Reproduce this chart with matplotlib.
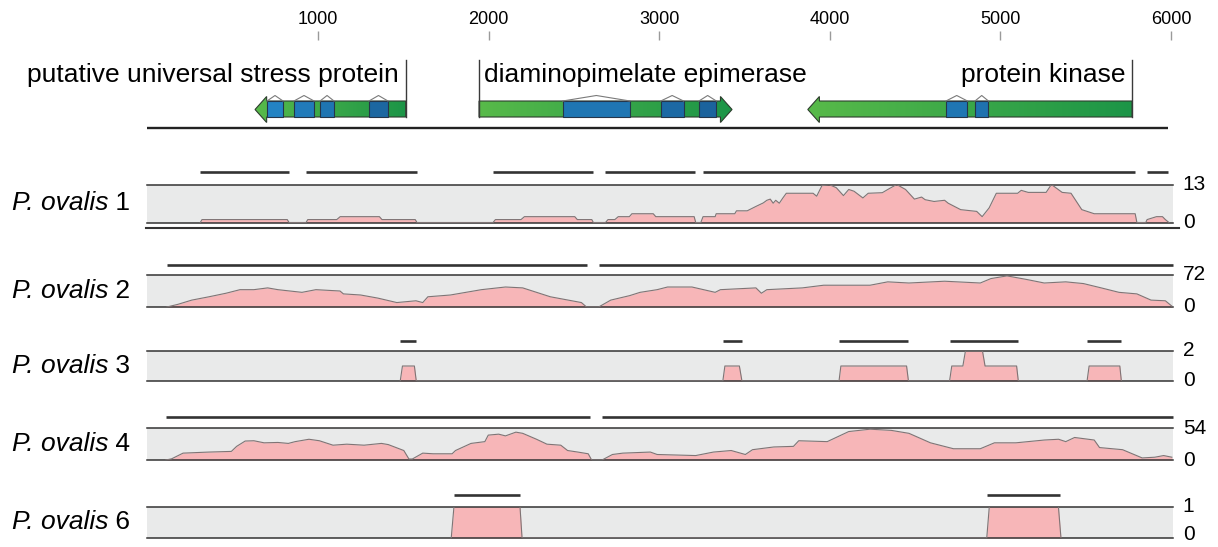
import numpy as np
import matplotlib
matplotlib.use('Agg')
import matplotlib.pyplot as plt
from matplotlib.patches import Polygon, Rectangle
from matplotlib.colors import LinearSegmentedColormap, to_rgb

plt.rcParams['font.family'] = ['Liberation Sans', 'DejaVu Sans']

# ---- data ----
tick_pos = [1000, 2000, 3000, 4000, 5000, 6000]
genome_len = 5980

gene_names = ['putative universal stress protein', 'diaminopimelate epimerase', 'protein kinase']
gene_start = [631, 1944, 3871]
gene_end = [1514, 3427, 5772]
gene_strand = [-1, 1, -1]
gene_domains = [
    [(701, 795), (859, 977), (1012, 1094), (1299, 1410)],
    [(2434, 2829), (3009, 3143), (3233, 3335)],
    [(4681, 4807), (4851, 4930)],
]

track_names = ['1', '2', '3', '4', '6']
track_max = [13, 72, 2, 54, 1]

cov1_pos = [310, 320, 820, 830, 930, 940, 1110, 1130, 1360, 1375, 1570, 1580,
            2026, 2040, 2190, 2210, 2505, 2520, 2605, 2614,
            2685, 2700, 2740, 2760, 2825, 2840, 2965, 2980, 3205, 3214,
            3244, 3257, 3328, 3334, 3443, 3453, 3516, 3567, 3610, 3631, 3651, 3668,
            3683, 3704, 3725, 3745, 3902, 3923, 3954, 3996, 4038, 4080, 4111, 4142,
            4194, 4225, 4308, 4340, 4392, 4444, 4496, 4538, 4559, 4611, 4673, 4694,
            4767, 4861, 4893, 4934, 4976, 5101, 5122, 5163, 5268, 5299, 5362, 5414,
            5477, 5550, 5790, 5800, 5852, 5860, 5915, 5950, 5967, 5988]
cov1_val = [0, 1, 1, 0, 0, 1, 1, 2, 2, 1, 1, 0,
            0, 1, 1, 2, 2, 1, 1, 0,
            0, 1, 1, 2, 2, 3, 3, 2, 2, 0,
            0, 2, 2, 3, 3, 4, 4, 5.5, 6.7, 7.6, 8, 6.6,
            7.6, 6.6, 8.4, 10, 10, 9, 12.6, 13, 11.9, 9.2, 11.3, 10.7,
            8.4, 10, 10.2, 11.3, 13, 11.3, 8, 8.7, 7.8, 7.2, 7.6, 6.6,
            4.4, 3.8, 2, 5, 10, 10, 11, 10.3, 10.3, 13, 10.3, 10,
            4.4, 3, 3, 0, 0, 1, 2, 2, 1, 0]

cov2_pos = [114, 179, 260, 361, 461, 543, 624, 705, 765, 906, 988, 1129, 1149,
            1250, 1351, 1462, 1574, 1614, 1644, 1776, 1958, 2099, 2200, 2281,
            2362, 2544, 2574, 2645, 2716, 2827, 2888, 2988, 3049, 3192, 3328,
            3359, 3567, 3599, 3631, 3839, 3964, 4236, 4340, 4464, 4673, 4882,
            4945, 5039, 5153, 5257, 5383, 5487, 5591, 5695, 5800, 5883, 5967, 6005]
cov2_val = [0, 6, 15.5, 23, 31, 39, 39, 43, 39, 33, 39, 36, 29.5,
            27, 20, 10, 14, 10, 23, 27, 39, 45, 43, 33,
            23, 10, 0, 0, 15.5, 25.6, 33, 39, 45, 45, 33,
            39, 43, 31, 39, 43, 49, 49, 56.6, 54, 58, 54,
            64, 70, 62, 54, 56.6, 52.7, 43, 33, 29.5, 15.5, 14, 2]

cov3_pos = [1482, 1495, 1565, 1576, 3373, 3385, 3470, 3485, 4054, 4065, 4450, 4461,
            4702, 4715, 4780, 4795, 4895, 4910, 5095, 5105, 5508, 5520, 5700, 5709]
cov3_val = [0, 1, 1, 0, 0, 1, 1, 0, 0, 1, 1, 0,
            0, 1, 1, 2, 2, 1, 1, 0, 0, 1, 1, 0]

cov4_pos = [108, 142, 209, 361, 492, 523, 573, 624, 684, 765, 826, 866, 947, 1008,
            1088, 1169, 1270, 1372, 1412, 1503, 1533, 1553, 1614, 1675, 1786, 1806,
            1897, 1978, 1998, 2059, 2099, 2160, 2200, 2281, 2342, 2423, 2463, 2523,
            2584, 2604, 2665, 2726, 2787, 2948, 2988, 3214, 3318, 3422, 3505, 3547,
            3672, 3787, 3818, 3985, 4111, 4236, 4360, 4464, 4590, 4725, 4882, 4965,
            5091, 5257, 5341, 5383, 5435, 5550, 5581, 5716, 5831, 5905, 5957, 6005]
cov4_val = [0, 2, 11.6, 13.4, 14.5, 23, 32, 32.5, 29, 29.6, 28, 31, 35, 32.5,
            25, 26.7, 25, 28, 26, 16, 1.7, 1.7, 11.6, 10.5, 10.5, 16,
            28, 31, 42, 43.6, 40.7, 47, 45, 35, 26.7, 25, 16, 13.4,
            10.5, 0, 0, 9.3, 11.6, 13.4, 9.3, 7.5, 13.4, 16, 9.3, 17.4,
            22, 23, 32.5, 31, 48, 52, 50, 45, 29, 19, 19, 29,
            29, 33.7, 35, 31, 38, 33.7, 21, 17.4, 3.5, 4.7, 7.5, 4.7]

cov6_pos = [1781, 1797, 2184, 2196, 4920, 4935, 5340, 5355]
cov6_val = [0, 1, 1, 0, 0, 1, 1, 0]

seg1 = [(310, 830), (930, 1580), (2026, 2614), (2685, 3210), (3257, 5789), (5859, 5982)]
seg2 = [(114, 2577), (2645, 6010)]
seg3 = [(1482, 1576), (3373, 3485), (4054, 4461), (4702, 5105), (5508, 5709)]
seg4 = [(108, 2594), (2665, 6010)]
seg6 = [(1797, 2184), (4920, 5347)]

cov_pos = [cov1_pos, cov2_pos, cov3_pos, cov4_pos, cov6_pos]
cov_val = [cov1_val, cov2_val, cov3_val, cov4_val, cov6_val]
segments = [seg1, seg2, seg3, seg4, seg6]

# ---- layout (pixels) ----
W, H = 1218, 547
X0, PXU, XMAX = 147.4, 0.1706, 6010
track_rows = [(172, 184.5, 222.5), (264.5, 275, 307), (341, 351, 381),
              (417, 428, 460), (495, 506.5, 538)]

fig = plt.figure(figsize=(W / 100, H / 100), dpi=100)


def add_px_axes(top, bottom):
    return fig.add_axes([X0 / W, 1 - bottom / H, XMAX * PXU / W, (bottom - top) / H])


# ---- gene track ----
gax = add_px_axes(40, 135)
for s in gax.spines.values():
    s.set_visible(False)
gax.set_yticks([])
gax.xaxis.tick_top()
gax.set_xticks(tick_pos)
gax.set_xticklabels([str(t) for t in tick_pos])
gax.tick_params(axis='x', length=6.5, width=1, color='#9a9a9a', labelsize=13, pad=2)

green = LinearSegmentedColormap.from_list('g', ['#58ba4a', '#1c9547'])
blue_l, blue_d = np.array(to_rgb('#2489ca')), np.array(to_rgb('#1a5f98'))
b_top, b_bot, h_top, h_bot, mid = 101, 117, 96.5, 122.5, 109.5
head = 68

for name, s, e, strand, doms in zip(gene_names, gene_start, gene_end, gene_strand, gene_domains):
    if strand > 0:
        hb = e - head
        pts = [(s, b_top), (hb, b_top), (hb, h_top), (e, mid), (hb, h_bot), (hb, b_bot), (s, b_bot)]
    else:
        hb = s + head
        pts = [(e, b_top), (hb, b_top), (hb, h_top), (s, mid), (hb, h_bot), (hb, b_bot), (e, b_bot)]
    poly = Polygon(pts, closed=True, facecolor='none', edgecolor='#2e3d2e', lw=0.8, zorder=3)
    gax.add_patch(poly)
    im = gax.imshow(np.linspace(0, 1, 256)[None, :], cmap=green, aspect='auto',
                    extent=(s, e, h_bot, h_top), zorder=2)
    im.set_clip_path(poly)
    for d0, d1 in doms:
        f = ((d0 + d1) / 2 - s) / (e - s)
        c = blue_l * (1 - f) + blue_d * f
        gax.add_patch(Rectangle((d0, b_top), d1 - d0, b_bot - b_top, facecolor=c,
                                edgecolor='#25364a', lw=0.8, zorder=4))
        gax.plot([d0, (d0 + d1) / 2, d1], [b_top, 95.5, b_top], color='#7a7a7a', lw=0.8, zorder=4)
    # label bracket
    bx = s if strand > 0 else e
    gax.plot([bx, bx], [60, b_bot], color='#3a3a3a', lw=1, zorder=5)
    off = 5 if strand > 0 else -7
    gax.annotate(name, xy=(bx, 82), xycoords='data', xytext=(off, 0), textcoords='offset pixels',
                 ha='left' if strand > 0 else 'right', va='baseline', fontsize=19)

gax.plot([0, genome_len], [128, 128], color='#222222', lw=1.7, solid_capstyle='butt')
gax.set_xlim(0, XMAX)
gax.set_ylim(135, 40)

# ---- coverage tracks ----
last = len(track_names) - 1
for i, (name, vmax, pos, val, segs, (sy, top, bot)) in enumerate(
        zip(track_names, track_max, cov_pos, cov_val, segments, track_rows)):
    ax = add_px_axes(top, bot)
    ax.set_facecolor('#e9eaea')
    ax.set_xlim(0, XMAX)
    ax.set_ylim(0, vmax)
    ax.set_xticks([])
    ax.set_yticks([])
    for k in ['left', 'right']:
        ax.spines[k].set_visible(False)
    for k in ['top', 'bottom']:
        ax.spines[k].set_color('#333333')
        ax.spines[k].set_linewidth(1.1)
    ax.fill_between(pos, val, 0, color='#f7b6b8', lw=0, zorder=2)
    ax.plot(pos, val, color='#7f7475', lw=0.8, zorder=3)
    hgt = bot - top
    sy_ax = 1 + (top - sy) / hgt
    for a, b in segs:
        ax.plot([a, b], [sy_ax, sy_ax], transform=ax.get_xaxis_transform(), clip_on=False,
                color='#333333', lw=1.9, solid_capstyle='butt')
    if name == '1':
        ax.plot([-8, 6045], [-(228 - bot) / hgt] * 2, transform=ax.get_xaxis_transform(),
                clip_on=False, color='#333333', lw=1.5)
    ax.annotate(str(vmax), xy=(1, 1), xycoords='axes fraction', xytext=(10, 0),
                textcoords='offset pixels', ha='left', va='center', fontsize=15)
    ax.annotate('0', xy=(1, 0), xycoords='axes fraction', xytext=(10, 3 if i == last else 0),
                textcoords='offset pixels', ha='left', va='center', fontsize=15)
    t = fig.text(12 / W, 1 - (top + bot) / 2 / H, 'P. ovalis', fontsize=19, style='italic',
                 ha='left', va='center')
    ax.annotate(' ' + name, xy=(1, 0), xycoords=t, ha='left', va='bottom', fontsize=19,
                annotation_clip=False)

fig.savefig('out.png', dpi=100)
